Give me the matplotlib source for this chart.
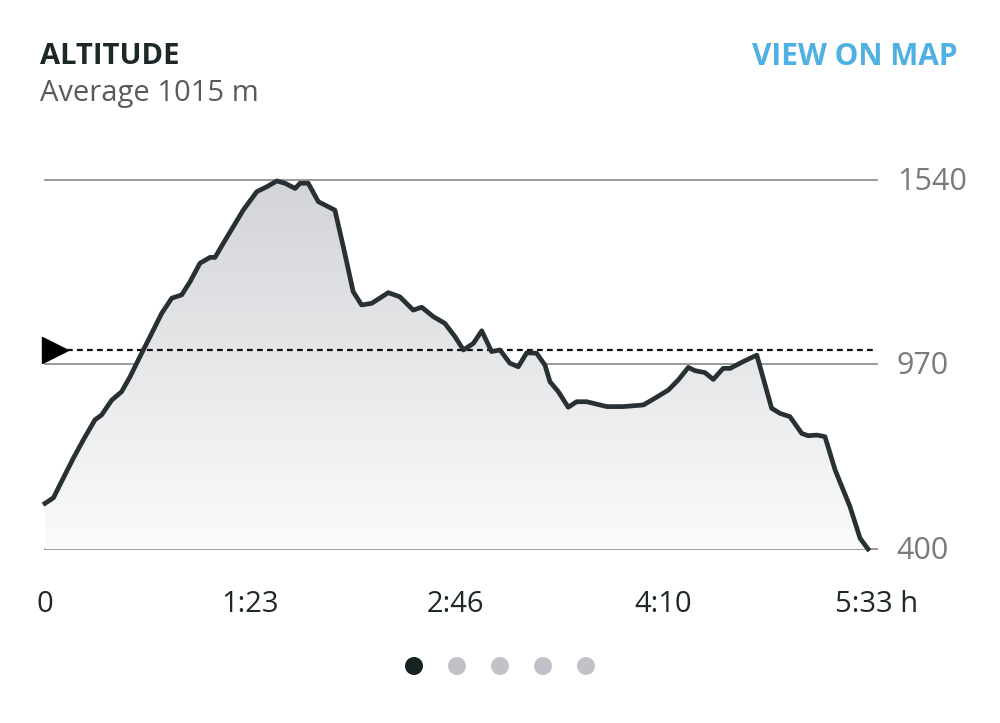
import numpy as np
import matplotlib
matplotlib.use("Agg")
import matplotlib.pyplot as plt
from matplotlib.colors import LinearSegmentedColormap
from matplotlib.patches import Circle

# elapsed time in minutes, altitude in metres
minutes = [0, 3.4, 7.4, 11.5, 15.5, 20.2, 22.9, 27.0, 31.0, 34.4, 38.4, 42.5,
           47.2, 51.3, 55.3, 58.7, 62.7, 66.8, 68.8, 72.1, 76.2, 80.2, 85.7,
           89.7, 93.8, 97.1, 101.2, 103.2, 106.5, 110.6, 117.3, 120.7, 124.7,
           128.1, 132.2, 138.9, 143.6, 149.0, 152.4, 157.1, 161.8, 165.9,
           169.3, 173.3, 176.7, 180.7, 184.1, 188.1, 191.5, 194.9, 198.9,
           202.3, 204.3, 207.7, 211.7, 215.1, 219.2, 227.3, 234.0, 242.1,
           245.5, 252.2, 256.2, 260.3, 263.0, 267.0, 270.4, 274.4, 277.2,
           282.5, 288.0, 294.0, 297.4, 301.4, 306.2, 308.8, 312.3, 315.6,
           319.7, 325.7, 329.8, 333.0]
altitude = [541, 558, 619, 681, 737, 799, 814, 860, 886, 932, 994, 1056,
            1128, 1175, 1185, 1226, 1283, 1301, 1301, 1344, 1396, 1447, 1504,
            1519, 1537, 1530, 1514, 1530, 1530, 1473, 1447, 1334, 1195,
            1154, 1159, 1192, 1179, 1138, 1147, 1118, 1097, 1056,
            1015, 1035, 1074, 1010, 1015, 974, 963, 1006, 1005,
            968, 917, 886, 838, 855, 855, 840, 840, 845,
            860, 891, 922, 961, 951, 945, 924, 958, 958,
            979, 999, 835, 819, 809, 757, 750, 752, 747,
            644, 531, 433, 400]

average = 1015
y_ticks = [400, 970, 1540]
x_ticks = [0, 83, 166, 250, 333]
x_labels = ["0", "1:23", "2:46", "4:10", "5:33 h"]

FONT = "Open Sans"
W, H = 1000, 723
fig = plt.figure(figsize=(W / 100, H / 100), dpi=100)
fig.patch.set_facecolor("white")

# axes placed in pixel terms: x 45..877, y 180..549
left, right, top, bottom = 45, 877, 180, 549
ax = fig.add_axes([left / W, 1 - bottom / H, (right - left) / W, (bottom - top) / H])
xmax = 333 * (right - left) / (868 - left)
ax.axis("off")

# gridlines and y labels
for v in y_ticks:
    ax.axhline(v, color="#9a9a9a", lw=1.4, clip_on=False, zorder=1)
    ax.text(xmax + 8, v - 5, str(v), ha="left", va="center", fontsize=22,
            color="#7a7a7a", family=FONT, clip_on=False)

# gradient fill under the profile
poly = ax.fill_between(minutes, altitude, 400, color="none", lw=0)
cmap = LinearSegmentedColormap.from_list("g", ["#fbfbfb", "#d3d4d8"])
grad = np.linspace(0, 1, 256).reshape(-1, 1)
img = ax.imshow(grad, extent=[0, 333, 400, 1540], origin="lower", cmap=cmap,
                aspect="auto", zorder=2)
img.set_clip_path(poly.get_paths()[0], transform=ax.transData)
ax.set_xlim(0, xmax)
ax.set_ylim(400, 1540)

# average line with marker
ax.plot([9, xmax], [average, average], color="#111111", lw=1.6,
        dashes=(2.6, 1.9), zorder=4, clip_on=False)
ax.plot([4], [average], marker=">", color="black", markersize=19,
        clip_on=False, zorder=5)

# profile line
ax.plot(minutes, altitude, color="#283034", lw=3.4, zorder=6,
        solid_joinstyle="round", clip_on=False)

# x labels
label_y = 400 - 56 * 1140 / 369
for t, lab in zip(x_ticks, x_labels):
    if lab.endswith(" h"):
        ax.text(t - 13.4, label_y, lab, ha="left", va="center", fontsize=21,
                color="#1f2828", family=FONT, clip_on=False)
    else:
        ax.text(t, label_y, lab, ha="center", va="center", fontsize=21,
                color="#1f2828", family=FONT, clip_on=False)

# header
fig.text(40 / W, 1 - 57 / H, "ALTITUDE", ha="left", va="center", fontsize=21,
         fontweight="bold", color="#1c2727", family=FONT)
fig.text(40 / W, 1 - 94 / H, "Average 1015 m", ha="left", va="center",
         fontsize=21, color="#5a5a5a", family=FONT)
fig.text(958 / W, 1 - 57 / H, "VIEW ON MAP", ha="right", va="center", fontsize=21.5,
         fontweight="bold", color="#4fb0e3", family=FONT)

# page dots
for i, cx in enumerate([414, 457, 500, 543, 586]):
    col = "#172222" if i == 0 else "#c1c2c7"
    fig.add_artist(Circle((cx / 100, (H - 666) / 100), 0.09,
                          transform=fig.dpi_scale_trans, color=col, ec="none"))

fig.savefig("out.png", dpi=100)
